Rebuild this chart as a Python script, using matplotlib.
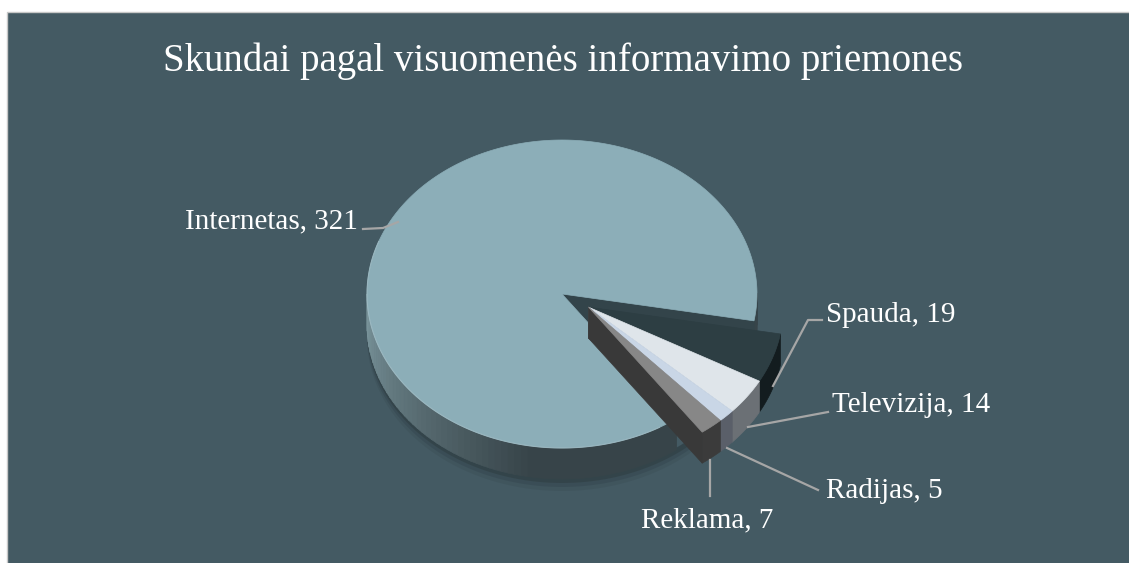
import numpy as np
import matplotlib.pyplot as plt
from matplotlib.patches import Polygon, Rectangle
from matplotlib.colors import to_rgb

# data
labels = ['Internetas', 'Spauda', 'Televizija', 'Radijas', 'Reklama']
values = [321, 19, 14, 5, 7]
explode = [0, 0.16, 0.16, 0.16, 0.16]
title = 'Skundai pagal visuomenės informavimo priemones'

top_colors = ['#8CAEB8', '#2D3E43', '#DFE5EA', '#C9D6E6', '#878787']
side_colors = [None, '#131C1F', '#6B7075', '#5A5F69', '#3B3B3B']

W, H = 1129, 563
cx, cy, rx, ry, depth = 562, 294, 195, 154, 31
start = 305.7
font = 'Liberation Serif'

fig = plt.figure(figsize=(W / 100, H / 100), dpi=100)
fig.patch.set_facecolor('white')
ax = fig.add_axes([0, 0, 1, 1])
ax.set_xlim(0, W)
ax.set_ylim(H, 0)
ax.axis('off')
ax.add_patch(Rectangle((7, 12), W, H, facecolor='#445A63',
                       edgecolor='#C8C8C8', lw=1))


def pt(t, ox, oy, dz=0):
    r = np.radians(t)
    return cx + ox + rx * np.cos(r), cy + oy - ry * np.sin(r) + dz


def arc(a, b, ox, oy, dz=0):
    n = max(2, int(abs(b - a))) + 1
    t = np.linspace(a, b, n)
    x, y = pt(t, ox, oy, dz)
    return np.column_stack([x, y])


def front_parts(a, b):
    base = np.floor(a / 360) * 360
    a0, b0 = a - base, b - base
    parts = []
    for lo, hi in [(180, 360), (540, 720)]:
        s, e = max(a0, lo), min(b0, hi)
        if e > s:
            parts.append((s + base, e + base))
    return parts


def wall(a, b, ox, oy, color):
    top = arc(a, b, ox, oy)
    bot = arc(a, b, ox, oy, depth)[::-1]
    ax.add_patch(Polygon(np.vstack([top, bot]), closed=True, facecolor=color,
                         edgecolor=color, lw=0.5))


def cut_face(t, ox, oy, color):
    apex = (cx + ox, cy + oy)
    rim = pt(t, ox, oy)
    poly = [apex, rim, (rim[0], rim[1] + depth), (apex[0], apex[1] + depth)]
    ax.add_patch(Polygon(poly, closed=True, facecolor=color, edgecolor=color, lw=0.5))


total = sum(values)
spans = [v / total * 360 for v in values]
ranges = []
hi = start
for s in spans:
    ranges.append((hi - s, hi))
    hi -= s

# common explosion direction for the detached slices
ex_idx = [i for i, e in enumerate(explode) if e > 0]
mid = np.radians((ranges[ex_idx[-1]][0] + ranges[ex_idx[0]][1]) / 2)
offsets = [(e * rx * np.cos(mid), -e * ry * np.sin(mid)) for e in explode]

# soft shadow under the pie
for k, al in [(4, 0.12), (8, 0.08), (12, 0.05)]:
    band = np.vstack([arc(180, 360, 0, 0, depth - 2), arc(180, 360, 0, 0, depth + k)[::-1]])
    ax.add_patch(Polygon(band, closed=True, facecolor='black', alpha=al, lw=0))

# big slice: shaded wall, cut face, top
light, dark = np.array(to_rgb('#7C979E')), np.array(to_rgb('#374449'))
a, b = ranges[0]
ox, oy = offsets[0]
for p0, p1 in front_parts(a, b):
    steps = np.arange(p0, p1, 2.0).tolist() + [p1]
    for t0, t1 in zip(steps[:-1], steps[1:]):
        u = np.clip(((t0 % 360) - 180) / 80, 0, 1)
        wall(t0, t1 + 0.3, ox, oy, tuple(light + (dark - light) * u))
cut_face(a, ox, oy, '#33444A')
top = np.vstack([[cx + ox, cy + oy], arc(a, b, ox, oy)])
ax.add_patch(Polygon(top, closed=True, facecolor=top_colors[0], edgecolor=top_colors[0], lw=0.5))
ax.plot(*arc(160, 300, ox, oy).T, color='#A9C3CB', lw=0.8, alpha=0.6)

# detached slices, back to front
for i in range(1, len(values)):
    a, b = ranges[i]
    ox, oy = offsets[i]
    for p0, p1 in front_parts(a, b):
        wall(p0, p1, ox, oy, side_colors[i])
    if np.cos(np.radians(a)) > 0:
        cut_face(a, ox, oy, '#393939' if i == len(values) - 1 else side_colors[i])
    top = np.vstack([[cx + ox, cy + oy], arc(a, b, ox, oy)])
    ax.add_patch(Polygon(top, closed=True, facecolor=top_colors[i],
                         edgecolor=top_colors[i], lw=0.5))

# labels and leader lines
label_pos = [(358, 228, 'right'), (826, 322, 'left'), (832, 412, 'left'),
             (826, 498, 'left'), (641, 527, 'left')]
leaders = [
    [(363, 229), (383, 228), (398, 222)],
    [(773, 386), (808, 320), (822, 320)],
    [(748, 427), (828, 412)],
    [(727, 448), (818, 490)],
    [(710, 460), (710, 496)],
]
for (x, y, ha), lab, v, ln in zip(label_pos, labels, values, leaders):
    ax.text(x, y, f'{lab}, {v}', ha=ha, va='baseline', fontsize=21,
            color='white', family=font)
    xs, ys = zip(*ln)
    ax.plot(xs, ys, color='#A6A6A6', lw=1.6)

ax.text(563, 71, title, ha='center', va='baseline', fontsize=28,
        color='white', family=font)

fig.savefig('out.png', dpi=100, facecolor=fig.get_facecolor())
